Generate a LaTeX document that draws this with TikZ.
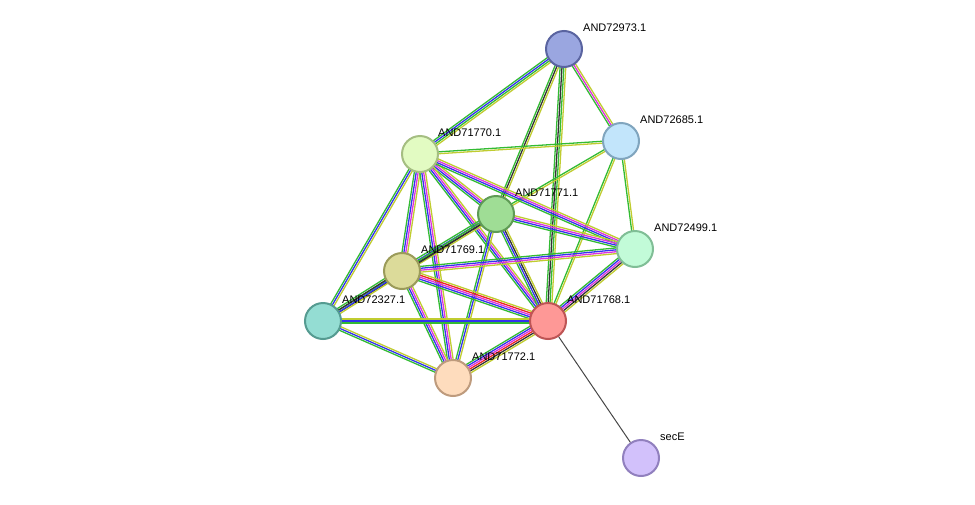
\documentclass[tikz,border=0pt]{standalone}
\usepackage{fontspec}
\setmainfont{Liberation Sans}
\usetikzlibrary{calc}
\definecolor{cg}{HTML}{33BB33}
\definecolor{cb}{HTML}{3333EE}
\definecolor{cm}{HTML}{DD33DD}
\definecolor{cy}{HTML}{C0CC30}
\definecolor{ck}{HTML}{333333}
\definecolor{cr}{HTML}{EE2222}
\definecolor{cc}{HTML}{33CCEE}
\tikzset{prot/.style={circle,draw,line width=2pt,minimum size=36pt,inner sep=0pt},
lab/.style={anchor=west,font=\fontsize{11}{13}\selectfont,inner sep=0pt}}
\newcommand\pe[4]{\foreach \c [count=\i] in {#4} {\pgfmathsetmacro\o{(\i-(#3+1)/2)*1.9}
\draw[draw=\c,line width=1.3pt] ($(#1)!\o pt!90:(#2)$) -- ($(#2)!\o pt!-90:(#1)$);}}
\begin{document}
\begin{tikzpicture}[x=1pt,y=-1pt]
\useasboundingbox (0,0) rectangle (975,504);
\coordinate (a) at (564,49);
\coordinate (b) at (621,141);
\coordinate (c) at (420,154);
\coordinate (d) at (496,214);
\coordinate (e) at (635,249);
\coordinate (f) at (402,271);
\coordinate (g) at (323,321);
\coordinate (h) at (548,321);
\coordinate (k) at (453,378);
\coordinate (s) at (641,458);
\pe{a}{b}{3}{cg,cm,cy}
\pe{a}{c}{4}{cg,cb,cg,cy}
\pe{a}{d}{3}{cg,ck,cy}
\pe{a}{h}{4}{cg,ck,cg,cy}
\pe{b}{c}{2}{cg,cy}
\pe{b}{d}{2}{cg,cy}
\pe{b}{h}{2}{cg,cy}
\pe{b}{e}{2}{cg,cy}
\pe{c}{d}{4}{cg,cb,cm,cy}
\pe{c}{e}{4}{cg,cb,cm,cy}
\pe{c}{h}{4}{cg,cb,cm,cy}
\pe{c}{f}{4}{cg,cb,cm,cy}
\pe{c}{g}{3}{cg,cb,cy}
\pe{c}{k}{4}{cg,cb,cm,cy}
\pe{d}{e}{4}{cg,cb,cm,cy}
\pe{d}{f}{4}{cg,cb,ck,cy}
\pe{d}{h}{4}{cg,cb,ck,cy}
\pe{d}{g}{2}{cg,ck}
\pe{d}{k}{3}{cg,cb,cy}
\pe{e}{f}{4}{cg,cb,cm,cy}
\pe{e}{h}{5}{cg,cb,cm,ck,cy}
\pe{f}{g}{4}{cg,ck,cb,cy}
\pe{f}{h}{5}{cg,cb,cm,cr,cy}
\pe{f}{k}{4}{cg,cb,cm,cy}
\pe{g}{h}{3}{cg,cb,cy}
\pe{g}{k}{3}{cg,cb,cy}
\pe{h}{k}{6}{cg,cb,cm,cr,ck,cy}
\draw[ck!90,line width=1pt] (h) -- (s);
\node[prot,fill={rgb,255:red,154;green,166;blue,224},draw={rgb,255:red,90;green,100;blue,160}] (na) at (a) {};
\node[prot,fill={rgb,255:red,194;green,229;blue,251},draw={rgb,255:red,128;green,165;blue,190}] (nb) at (b) {};
\node[prot,fill={rgb,255:red,226;green,251;blue,194},draw={rgb,255:red,165;green,190;blue,130}] (nc) at (c) {};
\node[prot,fill={rgb,255:red,159;green,221;blue,149},draw={rgb,255:red,95;green,155;blue,85}] (nd) at (d) {};
\node[prot,fill={rgb,255:red,194;green,251;blue,216},draw={rgb,255:red,128;green,190;blue,150}] (ne) at (e) {};
\node[prot,fill={rgb,255:red,220;green,219;blue,154},draw={rgb,255:red,155;green,155;blue,90}] (nf) at (f) {};
\node[prot,fill={rgb,255:red,148;green,221;blue,211},draw={rgb,255:red,85;green,155;blue,145}] (ng) at (g) {};
\node[prot,fill={rgb,255:red,254;green,152;blue,150},draw={rgb,255:red,190;green,85;blue,85}] (nh) at (h) {};
\node[prot,fill={rgb,255:red,254;green,220;blue,189},draw={rgb,255:red,190;green,155;blue,125}] (nk) at (k) {};
\node[prot,fill={rgb,255:red,210;green,193;blue,251},draw={rgb,255:red,145;green,128;blue,190}] (ns) at (s) {};
\node[lab] (la) at (583,28) {AND72973.1};
\node[lab] (lb) at (640,120) {AND72685.1};
\node[lab] (lc) at (438,133) {AND71770.1};
\node[lab] (ld) at (515,193) {AND71771.1};
\node[lab] (le) at (654,228) {AND72499.1};
\node[lab] (lf) at (421,250) {AND71769.1};
\node[lab] (lg) at (342,300) {AND72327.1};
\node[lab] (lh) at (567,300) {AND71768.1};
\node[lab] (lk) at (472,357) {AND71772.1};
\node[lab] (ls) at (660,437) {secE};
\end{tikzpicture}
\end{document}
